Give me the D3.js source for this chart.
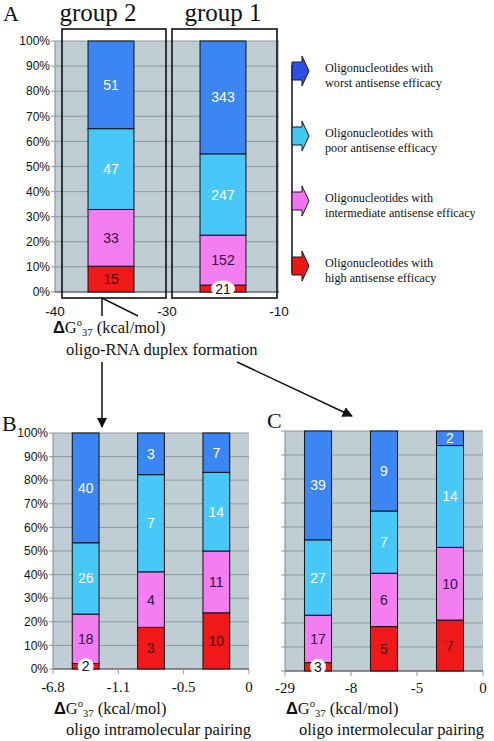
<!DOCTYPE html>
<html><head><meta charset="utf-8">
<script src="https://cdn.jsdelivr.net/npm/d3@7"></script>
<style>body{margin:0;background:#fff}svg{display:block}</style>
</head><body>
<script>
// ---------- data ----------
const keys = ["high","inter","poor","worst"];
const categoriesA = ["group 2","group 1"];
const highA  = [15, 21];
const interA = [33, 152];
const poorA  = [47, 247];
const worstA = [51, 343];
const ticksA = ["-40","-30","-10"];

const categoriesB = ["-6.8 to -1.1","-1.1 to -0.5","-0.5 to 0"];
const highB  = [2, 3, 10];
const interB = [18, 4, 11];
const poorB  = [26, 7, 14];
const worstB = [40, 3, 7];
const ticksB = ["-6.8","-1.1","-0.5","0"];

const categoriesC = ["-29 to -8","-8 to -5","-5 to 0"];
const highC  = [3, 5, 7];
const interC = [17, 6, 10];
const poorC  = [27, 7, 14];
const worstC = [39, 9, 2];
const ticksC = ["-29","-8","-5","0"];

const yTickLabels = ["0%","10%","20%","30%","40%","50%","60%","70%","80%","90%","100%"];
const legendLines = [
  ["Oligonucleotides with","worst antisense efficacy"],
  ["Oligonucleotides with","poor antisense efficacy"],
  ["Oligonucleotides with","intermediate antisense efficacy"],
  ["Oligonucleotides with","high antisense efficacy"]
];
const legendKeys = ["worst","poor","inter","high"];

// ---------- styles ----------
const barColor = {worst:"#3B86F2", poor:"#48C8F8", inter:"#F27EF2", high:"#F01818"};
const legColor = {worst:"#2F4EE6", poor:"#42C4F4", inter:"#F074F0", high:"#E81818"};
const txtColor = {worst:"#ffffff", poor:"#ffffff", inter:"#3c0c44", high:"#4a0808"};
const BG = "#C1CDD4", GRID = "#8D989F";
const SANS = "Liberation Sans, Arial, sans-serif";
const SERIF = "Liberation Serif, Times New Roman, serif";

const svg = d3.select("body").append("svg").attr("width",494).attr("height",741);
svg.append("rect").attr("width",494).attr("height",741).attr("fill","#fff");

function table(cats, h, i, p, w){
  return cats.map((c,k)=>({cat:c, high:h[k], inter:i[k], poor:p[k], worst:w[k]}));
}

function drawPanel(o){
  const g = svg.append("g");
  const x = d3.scaleBand().domain(o.cats).range([o.x0,o.x1]).padding(0);
  const y = d3.scaleLinear().domain([0,1]).range([o.y1,o.y0]);
  g.append("rect").attr("x",o.x0).attr("y",o.y0).attr("width",o.x1-o.x0).attr("height",o.y1-o.y0).attr("fill",BG);
  const yt = d3.range(0,1.0001,0.1);
  g.selectAll("line.grid").data(yt).join("line")
    .attr("x1",o.x0).attr("x2",o.x1).attr("y1",d=>y(d)).attr("y2",d=>y(d))
    .attr("stroke",GRID).attr("stroke-width",1);
  g.append("line").attr("x1",o.x0).attr("x2",o.x0).attr("y1",o.y0).attr("y2",o.y1).attr("stroke",GRID).attr("stroke-width",1.2);
  g.selectAll("line.lt").data(yt).join("line")
    .attr("x1",o.x0-4).attr("x2",o.x0).attr("y1",d=>y(d)).attr("y2",d=>y(d)).attr("stroke",GRID);
  if(o.showY){
    g.selectAll("text.yl").data(yTickLabels).join("text")
      .attr("x",o.x0-5).attr("y",(d,i)=>y(i/10)).attr("dy","0.35em")
      .attr("text-anchor","end").attr("font-family",SANS).attr("font-size",12).attr("fill","#111").text(d=>d);
  }
  g.append("line").attr("x1",o.x0).attr("x2",o.x1).attr("y1",o.y1).attr("y2",o.y1).attr("stroke","#555").attr("stroke-width",1.2);
  const bounds = o.cats.map(c=>x(c)).concat([o.x1]);
  if(o.xTicks){
    g.selectAll("line.xt").data(bounds).join("line")
      .attr("x1",d=>d).attr("x2",d=>d).attr("y1",o.y1).attr("y2",o.y1+5).attr("stroke",GRID);
  }
  g.selectAll("text.xl").data(o.tickLabels).join("text")
    .attr("x",(d,i)=>bounds[i]).attr("y",o.tickY).attr("text-anchor","middle")
    .attr("font-family",o.tickFont).attr("font-size",o.tickSize).attr("fill","#111").text(d=>d);
  if(o.boxes){
    g.selectAll("rect.box").data(o.cats).join("rect")
      .attr("x",d=>x(d)+(d===o.cats[0]?7:5)).attr("y",o.y0-12)
      .attr("width",d=>x.bandwidth()-(d===o.cats[0]?8:7)).attr("height",o.y1-o.y0+18)
      .attr("fill","none").attr("stroke","#111").attr("stroke-width",1.6);
    g.selectAll("text.gt").data(o.cats).join("text")
      .attr("x",d=>x(d)+x.bandwidth()/2-(d===o.cats[0]?13:0)).attr("y",21)
      .attr("text-anchor","middle").attr("font-family",SERIF).attr("font-size",25).attr("fill","#111").text(d=>d);
  }
  const stack = d3.stack().keys(keys).offset(d3.stackOffsetExpand)(o.data);
  const f = 0.41;
  const bw = x.bandwidth()*f;
  const barG = g.append("g"), labG = g.append("g");
  stack.forEach(layer=>{
    const k = layer.key;
    barG.append("g").selectAll("rect").data(layer).join("rect")
      .attr("x",d=>x(d.data.cat)+(x.bandwidth()-bw)/2).attr("width",bw)
      .attr("y",d=>y(d[1])).attr("height",d=>y(d[0])-y(d[1]))
      .attr("fill",barColor[k]).attr("stroke","#111").attr("stroke-width",1);
    layer.forEach(d=>{
      const cx = x(d.data.cat)+x.bandwidth()/2;
      const cy = (y(d[0])+y(d[1]))/2;
      const h = y(d[0])-y(d[1]);
      const v = d.data[k];
      if(h < 12){
        const w = String(v).length*8+6;
        labG.append("ellipse").attr("cx",cx).attr("cy",cy).attr("rx",w/2+1).attr("ry",8).attr("fill","#fff");
        labG.append("text").attr("x",cx).attr("y",cy).attr("dy","0.36em").attr("text-anchor","middle")
          .attr("font-family",SANS).attr("font-size",14).attr("fill","#111").text(v);
      } else {
        labG.append("text").attr("x",cx).attr("y",cy).attr("dy","0.36em").attr("text-anchor","middle")
          .attr("font-family",SANS).attr("font-size",14).attr("fill",txtColor[k]).text(v);
      }
    });
  });
  return {x,y};
}

drawPanel({cats:categoriesA, data:table(categoriesA,highA,interA,poorA,worstA),
  x0:55,x1:279,y0:41,y1:292, showY:true, tickLabels:ticksA, tickY:316, tickFont:SANS, tickSize:13.5, boxes:true, xTicks:false});
drawPanel({cats:categoriesB, data:table(categoriesB,highB,interB,poorB,worstB),
  x0:53,x1:249,y0:433,y1:669, showY:true, tickLabels:ticksB, tickY:692, tickFont:SERIF, tickSize:15, xTicks:true});
drawPanel({cats:categoriesC, data:table(categoriesC,highC,interC,poorC,worstC),
  x0:285,x1:483,y0:431,y1:671, showY:false, tickLabels:ticksC, tickY:693, tickFont:SERIF, tickSize:15, xTicks:true});

[["A",3,21],["B",2,431],["C",267,428]].forEach(([t,px,py])=>{
  svg.append("text").attr("x",px).attr("y",py).attr("font-family",SERIF).attr("font-size",22).attr("fill","#111").text(t);
});

function dgLabel(px,py,line2x,line2y,line2){
  const t = svg.append("text").attr("x",px).attr("y",py).attr("font-family",SERIF).attr("font-size",16.5).attr("fill","#111");
  t.append("tspan").attr("font-family",SANS).attr("font-weight","bold").text("\u0394");
  t.append("tspan").text("G");
  t.append("tspan").attr("font-size",10.5).attr("dy",-7).text("o");
  t.append("tspan").attr("font-size",10.5).attr("dy",9.5).text("37");
  t.append("tspan").attr("dy",-2.5).text(" (kcal/mol)");
  svg.append("text").attr("x",line2x).attr("y",line2y).attr("font-family",SERIF).attr("font-size",16.5).attr("fill","#111").text(line2);
}
dgLabel(53,333,66,355,"oligo-RNA duplex formation");
dgLabel(54,714,66,735,"oligo intramolecular pairing");
dgLabel(286,714,299,735,"oligo intermolecular pairing");

const defs = svg.append("defs");
defs.append("marker").attr("id","ah").attr("viewBox","0 0 10 10").attr("refX",9).attr("refY",5)
  .attr("markerWidth",7).attr("markerHeight",7).attr("orient","auto")
  .append("path").attr("d","M0,0 L10,5 L0,10 Z").attr("fill","#111");
svg.append("path").attr("d","M102,316 L102,298 L138,316").attr("fill","none").attr("stroke","#111").attr("stroke-width",1.5);
svg.append("line").attr("x1",102).attr("y1",362).attr("x2",102).attr("y2",427).attr("stroke","#111").attr("stroke-width",1.5).attr("marker-end","url(#ah)");
svg.append("line").attr("x1",237).attr("y1",362).attr("x2",352).attr("y2",416).attr("stroke","#111").attr("stroke-width",1.5).attr("marker-end","url(#ah)");

const ly = d3.scalePoint().domain(legendKeys).range([71,266]);
svg.append("line").attr("x1",292).attr("x2",292).attr("y1",ly("worst")-6).attr("y2",ly("high")+7).attr("stroke","#111").attr("stroke-width",1.5);
legendKeys.forEach((k,i)=>{
  const cy = ly(k);
  svg.append("path")
    .attr("d",`M292,${cy-9} L302,${cy-9} L302,${cy-15} L309,${cy} L302,${cy+15} L302,${cy+9} L292,${cy+9} Z`)
    .attr("fill",legColor[k]).attr("stroke","#1a1a1a").attr("stroke-width",1);
  legendLines[i].forEach((s,j)=>{
    svg.append("text").attr("x",325).attr("y",cy+1+j*14.5).attr("font-family",SERIF).attr("font-size",12.2).attr("fill","#111").text(s);
  });
});
</script>
</body></html>
